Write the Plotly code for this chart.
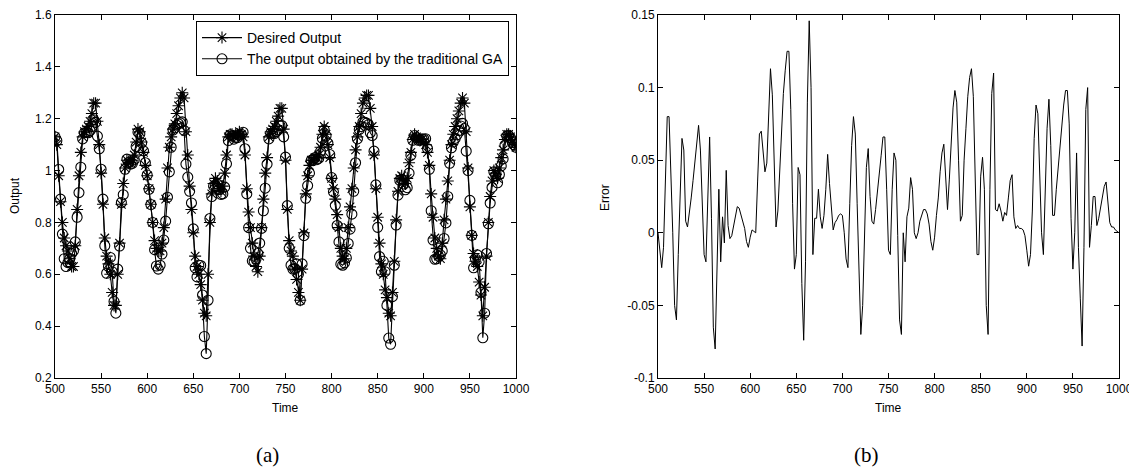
import plotly.graph_objects as go

# ---------------- data ----------------
time = list(range(500, 1001, 2))

desired = [
    1.13, 1.10, 0.98, 0.88, 0.80, 0.74, 0.71, 0.69, 0.66, 0.63,
    0.63, 0.71, 0.85, 0.98, 1.07, 1.13, 1.15, 1.16, 1.17, 1.19,
    1.22, 1.26, 1.26, 1.19, 1.10, 0.99, 0.87, 0.74, 0.67, 0.64,
    0.60, 0.53, 0.48, 0.48, 0.60, 0.72, 0.87, 0.95, 1.01, 1.04,
    1.03, 1.03, 1.04, 1.06, 1.11, 1.16, 1.15, 1.11, 1.07, 1.02,
    0.98, 0.93, 0.87, 0.80, 0.73, 0.70, 0.69, 0.69, 0.72, 0.78,
    0.89, 1.01, 1.09, 1.13, 1.16, 1.18, 1.22, 1.25, 1.28, 1.30,
    1.28, 1.15, 1.06, 0.94, 0.85, 0.76, 0.67, 0.63, 0.60, 0.56,
    0.50, 0.45, 0.44, 0.60, 0.80, 0.91, 0.95, 0.97, 0.96, 0.93,
    0.92, 0.94, 0.99, 1.06, 1.13, 1.14, 1.14, 1.13, 1.14, 1.14,
    1.15, 1.14, 1.13, 1.06, 0.93, 0.84, 0.78, 0.72, 0.67, 0.63,
    0.61, 0.67, 0.78, 0.89, 0.99, 1.05, 1.13, 1.15, 1.16, 1.17,
    1.19, 1.21, 1.24, 1.24, 1.16, 1.04, 0.85, 0.73, 0.69, 0.67,
    0.62, 0.58, 0.53, 0.50, 0.62, 0.76, 0.91, 0.98, 1.02, 1.04,
    1.04, 1.05, 1.05, 1.06, 1.09, 1.14, 1.17, 1.14, 1.10, 1.05,
    0.97, 0.93, 0.89, 0.83, 0.78, 0.70, 0.67, 0.66, 0.70, 0.78,
    0.86, 0.93, 1.01, 1.08, 1.13, 1.17, 1.22, 1.26, 1.28, 1.29,
    1.29, 1.24, 1.17, 1.06, 0.93, 0.82, 0.72, 0.64, 0.60, 0.54,
    0.51, 0.45, 0.44, 0.53, 0.65, 0.81, 0.92, 0.97, 0.98, 0.96,
    0.95, 0.97, 1.03, 1.07, 1.12, 1.14, 1.13, 1.12, 1.12, 1.12,
    1.11, 1.10, 1.07, 1.02, 0.91, 0.82, 0.74, 0.70, 0.67, 0.66,
    0.72, 0.81, 0.89, 0.96, 1.04, 1.10, 1.14, 1.17, 1.20, 1.23,
    1.26, 1.28, 1.26, 1.15, 1.01, 0.86, 0.75, 0.68, 0.65, 0.63,
    0.57, 0.52, 0.44, 0.55, 0.67, 0.80, 0.90, 0.96, 1.00, 0.99,
    0.97, 1.01, 1.05, 1.08, 1.12, 1.14, 1.14, 1.13, 1.11, 1.10,
    1.09,
]

ga_output = [
    1.130, 1.115, 1.004, 0.890, 0.755, 0.660, 0.630, 0.645, 0.660, 0.680,
    0.690, 0.725, 0.820, 0.915, 1.013, 1.122, 1.146, 1.147, 1.146, 1.154,
    1.170, 1.196, 1.186, 1.133, 1.084, 1.005, 0.890, 0.710, 0.604, 0.630,
    0.665, 0.610, 0.495, 0.450, 0.620, 0.709, 0.877, 0.907, 1.005, 1.044,
    1.032, 1.025, 1.028, 1.042, 1.093, 1.148, 1.141, 1.107, 1.076, 1.030,
    0.983, 0.928, 0.869, 0.800, 0.695, 0.632, 0.620, 0.635, 0.678, 0.732,
    0.805, 0.897, 0.995, 1.090, 1.156, 1.165, 1.175, 1.180, 1.184, 1.188,
    1.155, 1.025, 0.975, 0.920, 0.875, 0.775, 0.625, 0.590, 0.635, 0.634,
    0.520, 0.360, 0.294, 0.500, 0.815, 0.900, 0.940, 0.940, 0.949, 0.927,
    0.908, 0.910, 0.936, 1.026, 1.116, 1.138, 1.133, 1.121, 1.128, 1.127,
    1.138, 1.140, 1.148, 1.084, 0.910, 0.780, 0.700, 0.652, 0.650, 0.660,
    0.680, 0.720, 0.777, 0.845, 0.932, 1.025, 1.122, 1.144, 1.144, 1.143,
    1.150, 1.157, 1.174, 1.174, 1.130, 1.052, 0.865, 0.700, 0.635, 0.620,
    0.622, 0.640, 0.600, 0.500, 0.640, 0.749, 0.893, 0.942, 0.990, 1.040,
    1.044, 1.050, 1.042, 1.047, 1.074, 1.124, 1.157, 1.134, 1.106, 1.062,
    0.973, 0.918, 0.866, 0.788, 0.725, 0.639, 0.635, 0.644, 0.663, 0.719,
    0.774, 0.832, 0.920, 1.030, 1.122, 1.158, 1.170, 1.188, 1.186, 1.183,
    1.177, 1.146, 1.135, 1.075, 0.945, 0.781, 0.668, 0.610, 0.650, 0.610,
    0.480, 0.354, 0.330, 0.514, 0.635, 0.790, 0.905, 0.962, 0.966, 0.948,
    0.926, 0.934, 0.990, 1.059, 1.117, 1.135, 1.127, 1.117, 1.118, 1.122,
    1.122, 1.123, 1.085, 1.005, 0.845, 0.732, 0.658, 0.660, 0.670, 0.675,
    0.690, 0.738, 0.798, 0.900, 1.028, 1.088, 1.110, 1.124, 1.138, 1.154,
    1.172, 1.182, 1.162, 1.075, 1.000, 0.885, 0.750, 0.625, 0.660, 0.675,
    0.648, 0.530, 0.355, 0.450, 0.680, 0.795, 0.875, 0.935, 0.995, 0.980,
    0.953, 0.985, 1.018, 1.045, 1.098, 1.133, 1.136, 1.126, 1.108, 1.099,
    1.090,
]

error = [
    0.000, -0.015, -0.024, -0.010, 0.045, 0.080, 0.080, 0.045, 0.000, -0.050,
    -0.060, -0.015, 0.030, 0.065, 0.057, 0.008, 0.004, 0.013, 0.024, 0.036,
    0.050, 0.064, 0.074, 0.057, 0.016, -0.015, -0.020, 0.030, 0.066, 0.010,
    -0.065, -0.080, -0.015, 0.030, -0.020, 0.011, -0.007, 0.043, 0.005, -0.004,
    -0.002, 0.005, 0.012, 0.018, 0.017, 0.012, 0.009, 0.003, -0.006, -0.010,
    -0.003, 0.002, 0.001, 0.000, 0.035, 0.068, 0.070, 0.055, 0.042, 0.048,
    0.085, 0.113, 0.095, 0.040, 0.004, 0.015, 0.045, 0.070, 0.096, 0.112,
    0.125, 0.125, 0.085, 0.020, -0.025, -0.015, 0.045, 0.040, -0.035, -0.074,
    -0.020, 0.090, 0.146, 0.100, -0.015, 0.010, 0.010, 0.030, 0.011, 0.003,
    0.012, 0.030, 0.054, 0.034, 0.014, 0.002, 0.007, 0.009, 0.012, 0.013,
    0.012, 0.000, -0.018, -0.024, 0.020, 0.060, 0.080, 0.068, 0.020, -0.030,
    -0.070, -0.050, 0.003, 0.045, 0.058, 0.025, 0.008, 0.006, 0.016, 0.027,
    0.040, 0.053, 0.066, 0.066, 0.030, -0.012, -0.015, 0.030, 0.055, 0.050,
    -0.002, -0.060, -0.070, 0.000, -0.020, 0.011, 0.017, 0.038, 0.030, 0.000,
    -0.004, 0.000, 0.008, 0.013, 0.016, 0.016, 0.013, 0.006, -0.006, -0.012,
    -0.003, 0.012, 0.024, 0.042, 0.055, 0.061, 0.035, 0.016, 0.037, 0.061,
    0.086, 0.098, 0.090, 0.050, 0.008, 0.012, 0.050, 0.072, 0.094, 0.107,
    0.113, 0.094, 0.035, -0.015, -0.015, 0.039, 0.052, 0.030, -0.050, -0.070,
    0.030, 0.096, 0.110, 0.016, 0.015, 0.020, 0.015, 0.008, 0.014, 0.012,
    0.024, 0.036, 0.040, 0.011, 0.003, 0.005, 0.003, 0.003, 0.002, -0.002,
    -0.012, -0.023, -0.015, 0.015, 0.065, 0.088, 0.082, 0.040, 0.000, -0.015,
    0.030, 0.072, 0.092, 0.060, 0.012, 0.012, 0.030, 0.046, 0.062, 0.076,
    0.088, 0.098, 0.098, 0.075, 0.010, -0.025, 0.000, 0.055, -0.010, -0.045,
    -0.078, -0.010, 0.085, 0.100, -0.010, 0.005, 0.025, 0.025, 0.005, 0.010,
    0.017, 0.025, 0.032, 0.035, 0.022, 0.007, 0.004, 0.004, 0.002, 0.001,
    0.000,
]

x_ticks = [500, 550, 600, 650, 700, 750, 800, 850, 900, 950, 1000]
out_ticks = [0.2, 0.4, 0.6, 0.8, 1.0, 1.2, 1.4, 1.6]
out_labels = ["0.2", "0.4", "0.6", "0.8", "1", "1.2", "1.4", "1.6"]
err_ticks = [-0.1, -0.05, 0, 0.05, 0.1, 0.15]
err_labels = ["-0.1", "-0.05", "0", "0.05", "0.1", "0.15"]

series_names = ["Desired Output", "The output obtained by the traditional GA"]
panel_labels = ["(a)", "(b)"]

assert len(time) == len(desired) == len(ga_output) == len(error)

# ---------------- figure ----------------
# the page body has an 8px margin, so the figure is drawn 8px in from the corner
OFF = 8
W, H = 1137 - OFF, 473 - OFF


def px(x):
    return (x - OFF) / W


def py(y):
    return 1 - (y - OFF) / H


fig = go.Figure()

fig.add_trace(go.Scatter(
    x=time, y=desired, mode="lines+markers", name=series_names[0],
    line=dict(color="black", width=1.1),
    marker=dict(symbol="asterisk-open", size=10, color="black",
                line=dict(color="black", width=1.1)),
    xaxis="x", yaxis="y",
))
fig.add_trace(go.Scatter(
    x=time, y=ga_output, mode="lines+markers", name=series_names[1],
    line=dict(color="black", width=1.1),
    marker=dict(symbol="circle-open", size=10, color="black",
                line=dict(color="#222222", width=1.1)),
    xaxis="x", yaxis="y",
))
fig.add_trace(go.Scatter(
    x=time, y=error, mode="lines", showlegend=False,
    line=dict(color="black", width=1),
    xaxis="x2", yaxis="y2",
))

tick_font = dict(family="Liberation Sans, Arial, sans-serif", size=12, color="black")

axis_common = dict(
    showline=True, linecolor="black", linewidth=1, mirror="ticks",
    ticks="inside", ticklen=5, tickcolor="black", tickwidth=1,
    showgrid=False, zeroline=False, tickfont=tick_font, automargin=False,
)

fig.update_layout(
    width=W, height=H,
    margin=dict(l=0, r=0, t=0, b=0, autoexpand=False),
    paper_bgcolor="white", plot_bgcolor="white",
    font=tick_font,
    xaxis=dict(domain=[px(55), px(516)], range=[500, 1000],
               tickvals=x_ticks, anchor="y", **axis_common),
    yaxis=dict(domain=[py(378), py(15)], range=[0.2, 1.6],
               tickvals=out_ticks, ticktext=out_labels, anchor="x", **axis_common),
    xaxis2=dict(domain=[px(658), px(1119)], range=[500, 1000],
                tickvals=x_ticks, anchor="y2", **axis_common),
    yaxis2=dict(domain=[py(378), py(15)], range=[-0.1, 0.15],
                tickvals=err_ticks, ticktext=err_labels, anchor="x2", **axis_common),
    legend=dict(
        x=px(509), y=py(21), xanchor="right", yanchor="top",
        bgcolor="white", bordercolor="black", borderwidth=1,
        font=dict(family="Liberation Sans, Arial, sans-serif", size=14, color="black"),
        tracegroupgap=0, itemsizing="trace", itemwidth=40,
    ),
    showlegend=True,
)

ann_font = dict(family="Liberation Sans, Arial, sans-serif", size=12, color="black")
annotations = [
    dict(text="Output", x=px(15), y=py(196), textangle=-90, font=ann_font),
    dict(text="Time", x=px(285), y=py(408), font=ann_font),
    dict(text="Error", x=px(605), y=py(198), textangle=-90, font=ann_font),
    dict(text="Time", x=px(888), y=py(408), font=ann_font),
    dict(text=panel_labels[0], x=px(267), y=py(455),
         font=dict(family="Liberation Serif, DejaVu Serif, serif", size=21, color="black")),
    dict(text=panel_labels[1], x=px(866), y=py(455),
         font=dict(family="Liberation Serif, DejaVu Serif, serif", size=21, color="black")),
]
for a in annotations:
    a.update(xref="paper", yref="paper", showarrow=False, xanchor="center", yanchor="middle")
fig.update_layout(annotations=annotations)

fig.write_html("out.html")
